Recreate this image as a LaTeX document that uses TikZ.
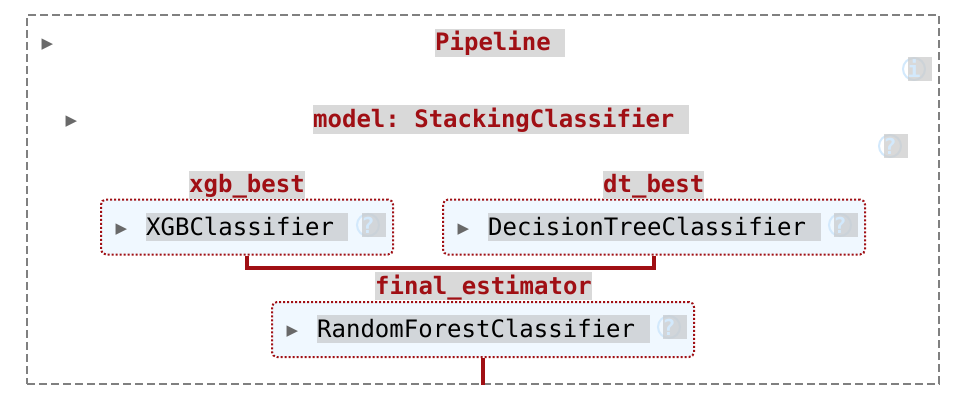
\documentclass[tikz,border=0pt]{standalone}
\usepackage{fontspec}
\setmonofont{DejaVu Sans Mono}
\newfontfamily\arrowfont{DejaVu Sans}
\definecolor{skred}{HTML}{A00F14}
\definecolor{skpale}{HTML}{F0F8FF}
\definecolor{skicon}{HTML}{D3E9FC}
\definecolor{selwhite}{HTML}{D9D9D9}
\definecolor{selpale}{HTML}{D2D6DA}
\definecolor{iconwhite}{HTML}{CCCCCC}
\definecolor{iconpale}{HTML}{C8CBCE}
\tikzset{
  pipebox/.style={draw=gray,line width=2pt,dash pattern=on 8pt off 4pt,inner sep=0pt},
  estbox/.style={draw=skred,fill=skpale,line width=2pt,dash pattern=on 2pt off 2pt,rounded corners=5pt,inner sep=0pt,minimum height=55pt},
  seltext/.style={fill=selpale,inner sep=0pt,anchor=west,text height=22pt,text depth=6pt,font=\ttfamily\fontsize{24}{28}\selectfont},
  headtext/.style={seltext,fill=selwhite,text=skred,font=\ttfamily\bfseries\fontsize{24}{28}\selectfont},
  toggle/.style={inner sep=0pt,text=black!59,font=\arrowfont\fontsize{15}{15}\selectfont},
  iconring/.style={draw=skicon,line width=2pt,circle,inner sep=0pt,minimum size=22pt},
  iconsel/.style={fill opacity=.75,inner sep=0pt,minimum size=24pt},
  iconchar/.style={inner sep=0pt,text=skicon,font=\ttfamily\bfseries\fontsize{22}{22}\selectfont},
  flowline/.style={draw=skred,line width=4pt}
}
\begin{document}
\begin{tikzpicture}[x=1pt,y=-1pt]
\useasboundingbox (0,0) rectangle (970,412);
\node[pipebox,minimum width=912pt,minimum height=369pt] (pipelinebox) at (483,199.5) {};
% headings
\node[headtext] (pipelinehead) at (435,43) {Pipeline\phantom{x}};
\node[headtext] (modelhead) at (313,119.5) {model: StackingClassifier\phantom{x}};
% estimators
\node[estbox,minimum width=292pt] (xgbbox) at (247,227) {};
\node[estbox,minimum width=422pt] (dtbox) at (654,227) {};
\node[estbox,minimum width=422pt] (rfbox) at (483,329.5) {};
\coordinate (stackbar) at (247,268);
\draw[flowline] (xgbbox.south) -- (xgbbox.south |- stackbar) -| (dtbox.south);
\draw[flowline] (rfbox.south) -- (rfbox.south |- pipelinebox.south);
\node[headtext] (xgbhead) at (189,184.5) {xgb\_best};
\node[headtext] (dthead) at (603,184.5) {dt\_best};
\node[headtext] (finalhead) at (375,286) {final\_estimator};
\node[seltext] (xgbname) at (146,227) {XGBClassifier\phantom{x}};
\node[seltext] (dtname) at (488,227) {DecisionTreeClassifier\phantom{x}};
\node[seltext] (rfname) at (317,329) {RandomForestClassifier\phantom{x}};
% toggles
\foreach \n/\i/\j in {pipe/47.5/44.5,model/71.5/121.5,xgb/121.5/229.5,dt/463.5/229.5,rf/292.5/331.5} {
  \node[toggle] (toggle\n) at (\i,\j) {▶};
}
% icons
\foreach \n/\i/\j/\g/\f in {pipe/914/69/i/iconwhite,model/890/146/?/iconwhite,xgb/368/225/?/iconpale,dt/840/225/?/iconpale,rf/669/327/?/iconpale} {
  \node[iconring] (ring\n) at (\i,\j) {};
  \node[iconsel,fill=\f] (sel\n) at (\i+6,\j) {};
  \node[iconchar] (char\n) at (\i,\j) {\g};
}
\end{tikzpicture}
\end{document}
